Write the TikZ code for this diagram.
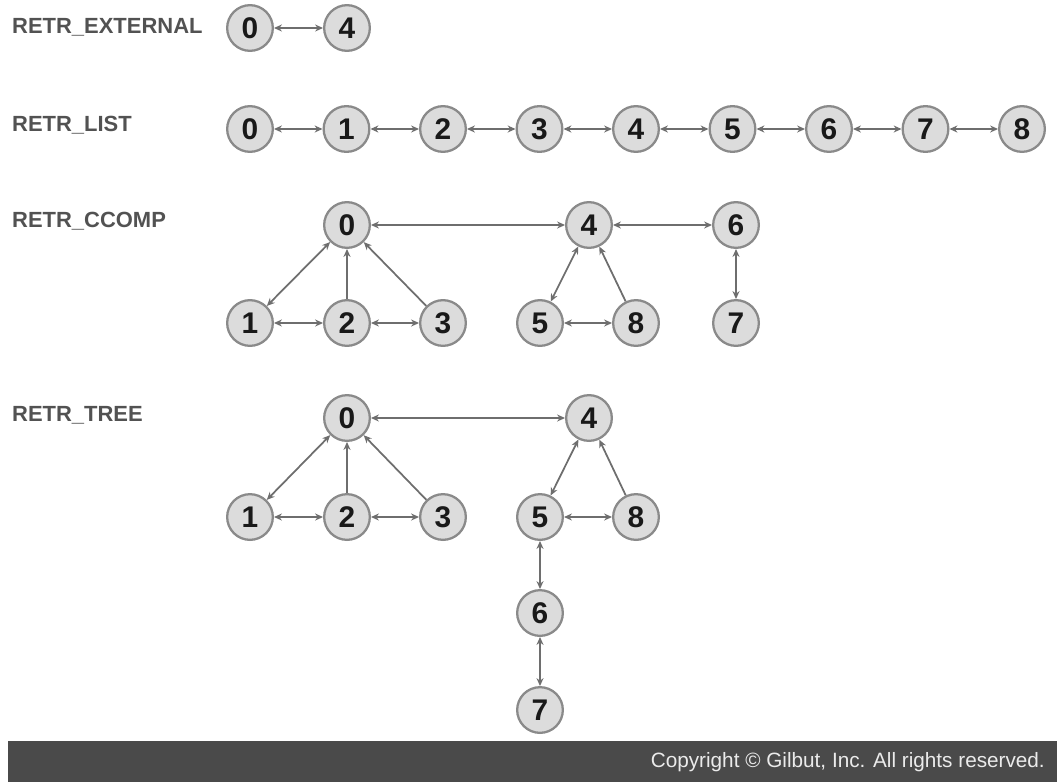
\documentclass[tikz,border=0pt]{standalone}
\usepackage{fontspec}
\setmainfont{Liberation Sans}
\usetikzlibrary{arrows.meta}
\definecolor{vfill}{HTML}{DCDCDC}
\definecolor{vline}{HTML}{8A8A8A}
\definecolor{elink}{HTML}{6E6E6E}
\definecolor{bar}{HTML}{4A4A4A}
\begin{document}
\begin{tikzpicture}[x=0.02cm,y=-0.02cm,>={Stealth[length=4.5pt,width=4pt]},
  vtx/.style={circle,draw=vline,fill=vfill,line width=1.3pt,minimum size=26pt,inner sep=0pt,
    font=\bfseries\fontsize{17}{17}\selectfont,text=black!90},
  mode/.style={anchor=west,font=\bfseries\fontsize{12.5}{12.5}\selectfont,text=black!68},
  lnk/.style={elink,line width=1pt}]
\useasboundingbox (0,0) rectangle (1064,782);
\node[mode] (mext) at (6,27) {RETR\_EXTERNAL};
\node[mode] (mlist) at (6,125) {RETR\_LIST};
\node[mode] (mccomp) at (6,221) {RETR\_CCOMP};
\node[mode] (mtree) at (6,415) {RETR\_TREE};
\node[vtx] (e0) at (250,28) {0}; \node[vtx] (e4) at (347,28) {4};
\draw[lnk,<->] (e0)--(e4);
\foreach \i in {0,...,8} \node[vtx] (l\i) at ({250+96.5*\i},129) {\i};
\foreach \i [count=\j] in {0,...,7} \draw[lnk,<->] (l\i)--(l\j);
\node[vtx] (c0) at (347,225) {0}; \node[vtx] (c4) at (589,225) {4}; \node[vtx] (c6) at (736,225) {6};
\node[vtx] (c1) at (250,323) {1}; \node[vtx] (c2) at (347,323) {2}; \node[vtx] (c3) at (443,323) {3};
\node[vtx] (c5) at (540,323) {5}; \node[vtx] (c8) at (636,323) {8}; \node[vtx] (c7) at (736,323) {7};
\draw[lnk,<->] (c0)--(c4); \draw[lnk,<->] (c4)--(c6); \draw[lnk,<->] (c6)--(c7);
\draw[lnk,<->] (c0)--(c1); \draw[lnk,->] (c2)--(c0); \draw[lnk,->] (c3)--(c0);
\draw[lnk,<->] (c1)--(c2); \draw[lnk,<->] (c2)--(c3);
\draw[lnk,<->] (c4)--(c5); \draw[lnk,->] (c8)--(c4); \draw[lnk,<->] (c5)--(c8);
\node[vtx] (t0) at (347,418) {0}; \node[vtx] (t4) at (589,418) {4};
\node[vtx] (t1) at (250,517) {1}; \node[vtx] (t2) at (347,517) {2}; \node[vtx] (t3) at (443,517) {3};
\node[vtx] (t5) at (540,517) {5}; \node[vtx] (t8) at (636,517) {8};
\node[vtx] (t6) at (540,613) {6}; \node[vtx] (t7) at (540,710) {7};
\draw[lnk,<->] (t0)--(t4);
\draw[lnk,<->] (t0)--(t1); \draw[lnk,->] (t2)--(t0); \draw[lnk,->] (t3)--(t0);
\draw[lnk,<->] (t1)--(t2); \draw[lnk,<->] (t2)--(t3);
\draw[lnk,<->] (t4)--(t5); \draw[lnk,->] (t8)--(t4); \draw[lnk,<->] (t5)--(t8);
\draw[lnk,<->] (t5)--(t6); \draw[lnk,<->] (t6)--(t7);
\fill[bar] (8,741) rectangle (1057,782);
\node[anchor=east,text=white!92!black,font=\fontsize{11.8}{11.8}\selectfont] (copy) at (1051,762) {Copyright © Gilbut, Inc. All rights reserved.};
\end{tikzpicture}
\end{document}
